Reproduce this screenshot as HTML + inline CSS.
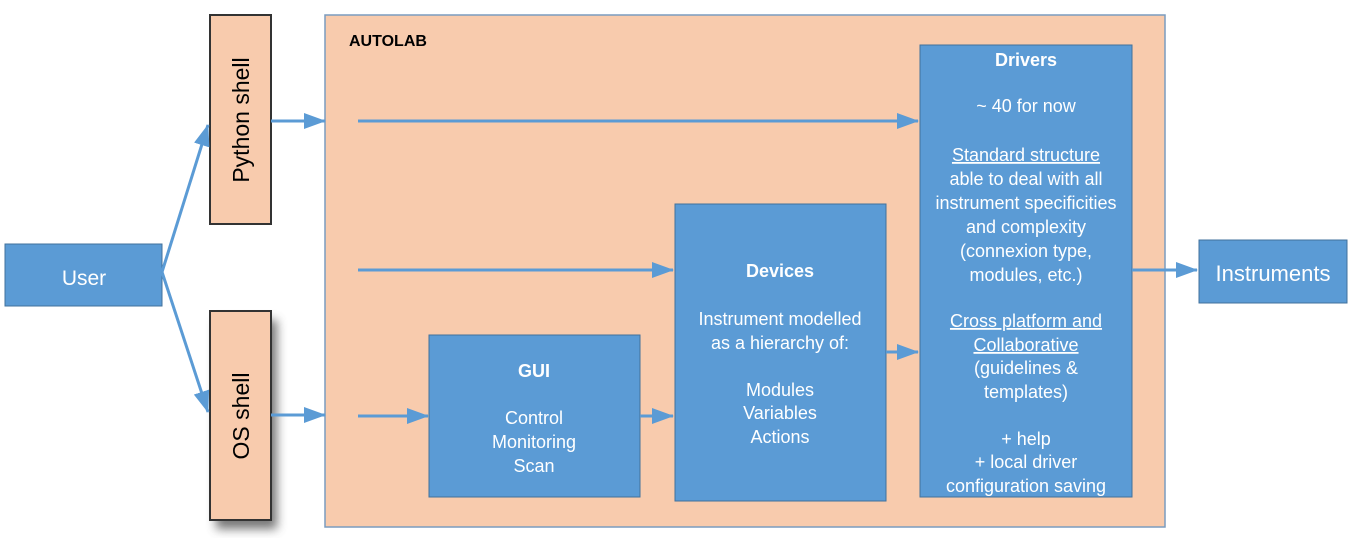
<!DOCTYPE html>
<html><head><meta charset="utf-8"><style>
body{margin:0;background:#fff}
svg text{font-family:"Liberation Sans",sans-serif;fill:#fff}
</style></head><body>
<svg width="1350" height="538" viewBox="0 0 1350 538" xmlns="http://www.w3.org/2000/svg">
<defs>
<marker id="b" markerWidth="22" markerHeight="16" refX="21" refY="8" orient="auto" markerUnits="userSpaceOnUse"><path d="M0,0 L22,8 L0,16 z" fill="#5b9bd5"/></marker>
<filter id="sh" x="-50%" y="-20%" width="200%" height="150%"><feGaussianBlur stdDeviation="5"/></filter>
</defs>
<rect x="5" y="244" width="157" height="62" fill="#5b9bd5" stroke="#41719c"/>
<text x="84" y="285" font-size="21" text-anchor="middle">User</text>
<rect x="216" y="320" width="61" height="209" fill="#555" filter="url(#sh)" opacity="0.8"/>
<rect x="210" y="15" width="61" height="209" fill="#f8cbad" stroke="#333" stroke-width="2"/>
<rect x="210" y="311" width="61" height="209" fill="#f8cbad" stroke="#333" stroke-width="2"/>
<text transform="translate(249,120) rotate(-90)" font-size="23" text-anchor="middle" style="fill:#000">Python shell</text>
<text transform="translate(249,416) rotate(-90)" font-size="23" text-anchor="middle" style="fill:#000">OS shell</text>
<rect x="325" y="15" width="840" height="512" fill="#f8cbad" stroke="#7a9cbf" stroke-width="1.5"/>
<text x="349" y="46" font-size="16" font-weight="bold" style="fill:#000">AUTOLAB</text>
<rect x="920" y="45" width="212" height="452" fill="#5b9bd5" stroke="#41719c"/>
<rect x="675" y="204" width="211" height="297" fill="#5b9bd5" stroke="#41719c"/>
<rect x="429" y="335" width="211" height="162" fill="#5b9bd5" stroke="#41719c"/>
<rect x="1199" y="240" width="148" height="63" fill="#5b9bd5" stroke="#41719c"/>
<text x="1273" y="281" font-size="22" text-anchor="middle">Instruments</text>
<g font-size="18" text-anchor="middle">
<text x="1026" y="66" font-weight="bold">Drivers</text>
<text x="1026" y="112">~ 40 for now</text>
<text x="1026" y="161" text-decoration="underline">Standard structure</text>
<text x="1026" y="185">able to deal with all</text>
<text x="1026" y="209">instrument specificities</text>
<text x="1026" y="233">and complexity</text>
<text x="1026" y="257">(connexion type,</text>
<text x="1026" y="281">modules, etc.)</text>
<text x="1026" y="327" text-decoration="underline">Cross platform and</text>
<text x="1026" y="351" text-decoration="underline">Collaborative</text>
<text x="1026" y="374">(guidelines &amp;</text>
<text x="1026" y="398">templates)</text>
<text x="1026" y="445">+ help</text>
<text x="1026" y="468">+ local driver</text>
<text x="1026" y="492">configuration saving</text>
<text x="780" y="277" font-weight="bold">Devices</text>
<text x="780" y="325">Instrument modelled</text>
<text x="780" y="349">as a hierarchy of:</text>
<text x="780" y="396">Modules</text>
<text x="780" y="419">Variables</text>
<text x="780" y="443">Actions</text>
<text x="534" y="377" font-weight="bold">GUI</text>
<text x="534" y="424">Control</text>
<text x="534" y="448">Monitoring</text>
<text x="534" y="472">Scan</text>
</g>
<g stroke="#5b9bd5" stroke-width="3" fill="none" marker-end="url(#b)">
<line x1="162" y1="272" x2="208" y2="125"/>
<line x1="162" y1="272" x2="208" y2="412"/>
<line x1="271" y1="121" x2="325" y2="121"/>
<line x1="358" y1="121" x2="918" y2="121"/>
<line x1="358" y1="270" x2="673" y2="270"/>
<line x1="271" y1="415" x2="325" y2="415"/>
<line x1="358" y1="416" x2="428" y2="416"/>
<line x1="640" y1="416" x2="673" y2="416"/>
<line x1="886" y1="352" x2="918" y2="352"/>
<line x1="1132" y1="270" x2="1197" y2="270"/>
</g>
</svg>
</body></html>
